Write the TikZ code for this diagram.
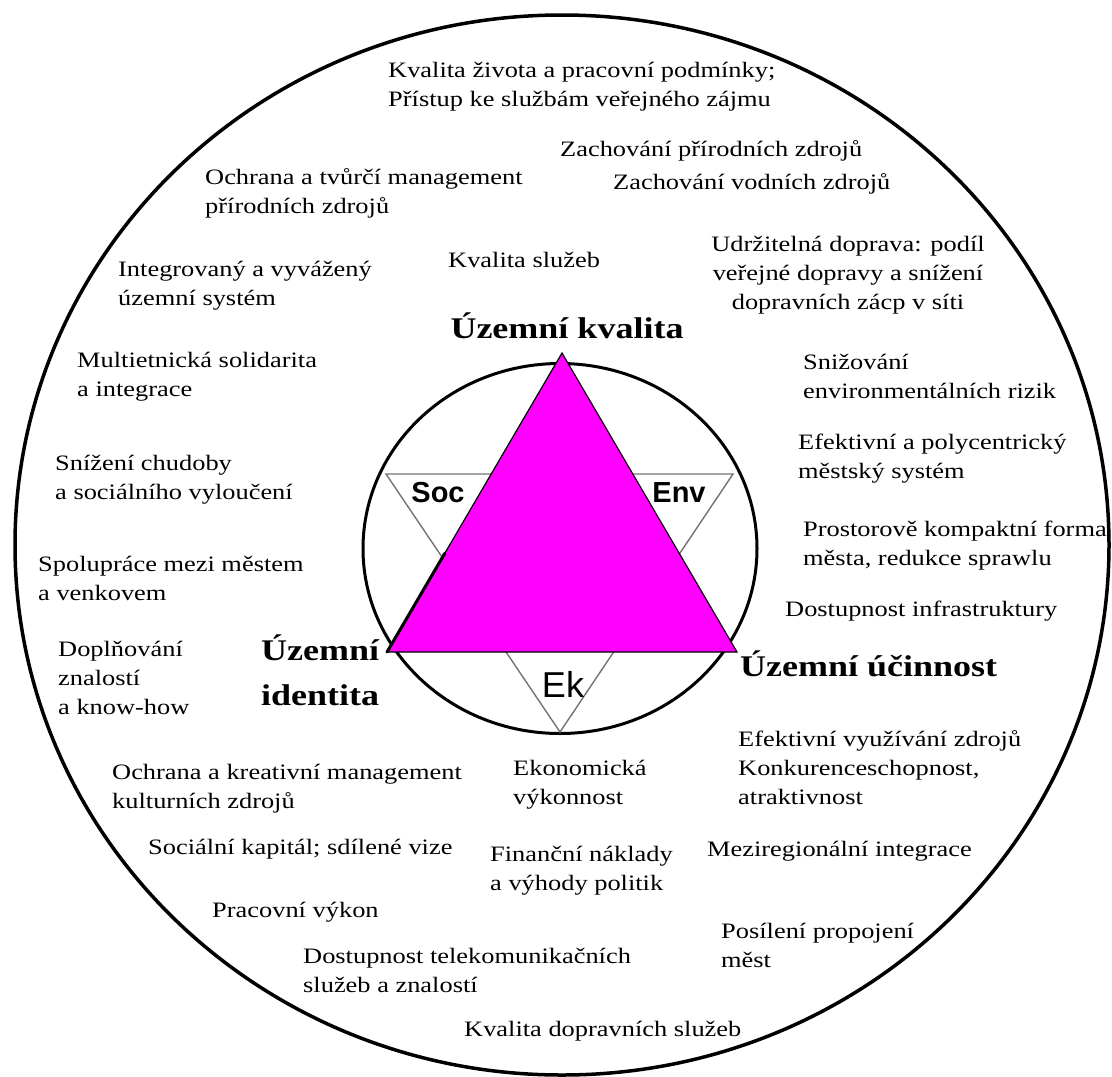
\documentclass[tikz,border=0pt]{standalone}
\usepackage{fontspec}
\usetikzlibrary{calc}
\setmainfont{Liberation Serif}[FakeStretch=1.2]
\newfontfamily\arialf{Liberation Sans}
\definecolor{puremag}{RGB}{255,0,255}
\begin{document}
\begin{tikzpicture}[x=1pt,y=-1pt,
  lab/.style={anchor=north west,inner sep=0pt,align=left,font=\fontsize{22}{29}\selectfont},
  labc/.style={anchor=north,inner sep=0pt,align=center,font=\fontsize{22}{29}\selectfont},
  big/.style={inner sep=0pt,align=left,font=\fontsize{30}{45}\selectfont\bfseries},
  sym/.style={inner sep=0pt,font=\fontsize{29}{32}\selectfont\arialf\bfseries},
  outerring/.style={line width=3.5pt,draw=black},
  innerring/.style={line width=3pt,draw=black},
  startri/.style={line width=1.4pt,draw=black!55},
  magtri/.style={fill=puremag,draw=black,line width=1.2pt}]
\useasboundingbox (0,0) rectangle (1112,1077);
% rings
\draw[outerring] (562,545) ellipse [x radius=547pt, y radius=530pt];
\draw[innerring] (560,548.5) ellipse [x radius=197pt, y radius=185pt];
% inverted triangle
\coordinate (sa) at (386,474);
\coordinate (sb) at (733,474);
\coordinate (sc) at (560,732);
\draw[startri] (sa) -- (sb) -- (sc) -- cycle;
% magenta triangle
\coordinate (ta) at (562,353);
\coordinate (tl) at (387,652);
\coordinate (tr) at (737,652);
\coordinate (tm) at ($(tl)!0.33!(ta)$);
\draw[magtri] (ta) -- (tr) -- (tl) -- cycle;
\draw[line width=3pt,line cap=round] (tl) -- (tm);
% symbols
\node[sym] (soc) at (438,493) {Soc};
\node[sym] (env) at (679,493) {Env};
\node[inner sep=0pt,font=\fontsize{36}{40}\selectfont\arialf] (ek) at (563,684) {Ek};
% main labels
\node[big,anchor=base] (kval) at (567,338) {Územní kvalita};
\node[big,anchor=north west] (ident) at (261,628.5) {\strut Územní\\identita};
\node[big,anchor=base west] (ucin) at (740,676) {Územní účinnost};
% surrounding labels
\node[lab] (n1) at (388,57) {\strut Kvalita života a pracovní podmínky;\\Přístup ke službám veřejného zájmu};
\node[lab] (n2) at (560,136) {\strut Zachování přírodních zdrojů};
\node[lab] (n3) at (613,169) {\strut Zachování vodních zdrojů};
\node[lab] (n4) at (205,164) {\strut Ochrana a tvůrčí management\\přírodních zdrojů};
\node[lab] (n5) at (448,247) {\strut Kvalita služeb};
\node[labc] (n6) at (848,231) {\strut Udržitelná doprava: podíl\\veřejné dopravy a snížení\\dopravních zácp v síti};
\node[lab] (n7) at (118,256) {\strut Integrovaný a vyvážený\\územní systém};
\node[lab] (n8) at (77,347) {\strut Multietnická solidarita\\a integrace};
\node[lab] (n9) at (55,450) {\strut Snížení chudoby\\a sociálního vyloučení};
\node[lab] (n10) at (38,551) {\strut Spolupráce mezi městem\\a venkovem};
\node[lab] (n11) at (58,636) {\strut Doplňování\\znalostí\\a know-how};
\node[lab] (n15) at (803,349) {\strut Snižování\\environmentálních rizik};
\node[lab] (n16) at (798,429) {\strut Efektivní a polycentrický\\městský systém};
\node[lab] (n17) at (803,516) {\strut Prostorově kompaktní forma\\města, redukce sprawlu};
\node[lab] (n18) at (785,596) {\strut Dostupnost infrastruktury};
\node[lab] (n19) at (738,726) {\strut Efektivní využívání zdrojů\\Konkurenceschopnost,\\atraktivnost};
\node[lab] (n20) at (513,755) {\strut Ekonomická\\výkonnost};
\node[lab] (n21) at (112,759) {\strut Ochrana a kreativní management\\kulturních zdrojů};
\node[lab] (n22) at (148,834) {\strut Sociální kapitál; sdílené vize};
\node[lab] (n23) at (490,841) {\strut Finanční náklady\\a výhody politik};
\node[lab] (n24) at (707,836) {\strut Meziregionální integrace};
\node[lab] (n25) at (212,897) {\strut Pracovní výkon};
\node[lab] (n26) at (721,918) {\strut Posílení propojení\\měst};
\node[lab] (n27) at (303,943) {\strut Dostupnost telekomunikačních\\služeb a znalostí};
\node[lab] (n28) at (464,1016) {\strut Kvalita dopravních služeb};
\end{tikzpicture}
\end{document}
